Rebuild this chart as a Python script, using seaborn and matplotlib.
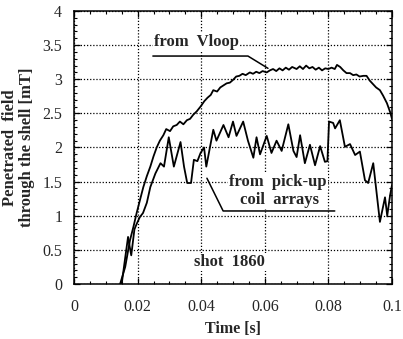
import matplotlib
matplotlib.use("Agg")
import matplotlib.pyplot as plt
import seaborn as sns
import pandas as pd
import numpy as np
from matplotlib.ticker import MultipleLocator

# ---- data ----
t_vloop = [0.0145, 0.0161, 0.0176, 0.0187, 0.0197, 0.0208, 0.0218, 0.0229, 0.0240,
           0.0250, 0.0260, 0.0270, 0.0281, 0.0290, 0.0302, 0.0312, 0.0323, 0.0333,
           0.0344, 0.0355, 0.0365, 0.0375, 0.0386, 0.0398, 0.0410, 0.0420, 0.0430,
           0.0438, 0.0450, 0.0460, 0.0470, 0.0480, 0.0490, 0.0500, 0.0510, 0.0520,
           0.0530, 0.0540, 0.0553, 0.0563, 0.0573, 0.0583, 0.0593, 0.0606, 0.0616,
           0.0626, 0.0636, 0.0646, 0.0656, 0.0666, 0.0676, 0.0686, 0.0700, 0.0710,
           0.0720, 0.0730, 0.0740, 0.0750, 0.0760, 0.0770, 0.0780, 0.0790, 0.0800,
           0.0810, 0.0820, 0.0827, 0.0837, 0.0847, 0.0857, 0.0868, 0.0878, 0.0888,
           0.0898, 0.0910, 0.0920, 0.0930, 0.0940, 0.0950, 0.0962, 0.0972, 0.0984,
           0.0994, 0.1000]
v_vloop = [0.00, 0.25, 0.64, 0.84, 1.04, 1.24, 1.42, 1.58, 1.72,
           1.87, 2.00, 2.10, 2.18, 2.27, 2.24, 2.31, 2.33, 2.38,
           2.34, 2.40, 2.42, 2.48, 2.53, 2.60, 2.68, 2.73, 2.77,
           2.84, 2.82, 2.88, 2.91, 2.94, 2.95, 2.99, 3.04, 3.05,
           3.08, 3.06, 3.10, 3.08, 3.11, 3.09, 3.12, 3.10, 3.13,
           3.15, 3.12, 3.16, 3.13, 3.17, 3.14, 3.18, 3.15, 3.19,
           3.15, 3.20, 3.16, 3.18, 3.14, 3.17, 3.13, 3.16, 3.15,
           3.17, 3.15, 3.21, 3.18, 3.13, 3.09, 3.09, 3.06, 3.07,
           3.04, 3.05, 3.05, 2.98, 2.93, 2.88, 2.84, 2.76, 2.65,
           2.52, 2.42]

t_pickup = [0.0150, 0.0160, 0.0170, 0.0175, 0.0180, 0.0190, 0.0197, 0.0207, 0.0217,
            0.0229, 0.0240, 0.0256, 0.0272, 0.0283, 0.0298, 0.0314, 0.0335, 0.0346,
            0.0356, 0.0368, 0.0377, 0.0388, 0.0398, 0.0409, 0.0416, 0.0438, 0.0448,
            0.0470, 0.0486, 0.0500, 0.0511, 0.0532, 0.0547, 0.0564, 0.0574, 0.0585,
            0.0606, 0.0621, 0.0637, 0.0653, 0.0674, 0.0690, 0.0700, 0.0711, 0.0726,
            0.0742, 0.0758, 0.0774, 0.0789, 0.0797, 0.0802, 0.0815, 0.0821, 0.0836,
            0.0852, 0.0868, 0.0884, 0.0899, 0.0915, 0.0925, 0.0941, 0.0962, 0.0978,
            0.0985, 0.0994, 0.1000]
v_pickup = [0.00, 0.35, 0.69, 0.55, 0.42, 0.80, 0.88, 0.98, 1.04,
            1.19, 1.42, 1.62, 1.77, 1.72, 2.15, 1.72, 2.08, 1.72,
            1.48, 1.48, 1.82, 1.80, 1.92, 2.00, 1.72, 2.26, 2.10,
            2.33, 2.15, 2.38, 2.17, 2.38, 2.10, 1.85, 2.15, 1.90,
            2.17, 1.92, 2.10, 1.95, 2.34, 1.95, 1.86, 2.18, 1.77,
            2.04, 1.74, 2.02, 1.79, 1.80, 2.38, 2.36, 2.28, 2.40,
            2.01, 2.05, 1.89, 1.94, 1.52, 1.48, 1.77, 0.91, 1.27,
            1.00, 1.30, 1.45]

x_ticks = [0, 0.02, 0.04, 0.06, 0.08, 0.1]
x_ticklabels = ["0", "0.02", "0.04", "0.06", "0.08", "0.1"]
y_ticks = [0, 0.5, 1, 1.5, 2, 2.5, 3, 3.5, 4]
y_ticklabels = ["0", "0.5", "1", "1.5", "2", "2.5", "3", "3.5", "4"]

df_v = pd.DataFrame({"t": t_vloop, "v": v_vloop})
df_p = pd.DataFrame({"t": t_pickup, "v": v_pickup})

sns.set_style("ticks")
plt.rcParams["font.family"] = ["Liberation Serif", "DejaVu Serif"]
plt.rcParams["xtick.direction"] = "in"
plt.rcParams["ytick.direction"] = "in"

fig = plt.figure(figsize=(4.03, 3.39), dpi=100)
ax = fig.add_axes([74 / 403, 55 / 339, 318 / 403, 273 / 339])

sns.lineplot(data=df_v, x="t", y="v", ax=ax, color="black", lw=1.3,
             estimator=None, sort=False)
sns.lineplot(data=df_p, x="t", y="v", ax=ax, color="black", lw=1.3,
             estimator=None, sort=False)

ax.set_xlim(0, 0.1)
ax.set_ylim(0, 4)
ax.set_xticks(x_ticks)
ax.set_xticklabels(x_ticklabels, fontsize=11.5)
ax.set_yticks(y_ticks)
ax.set_yticklabels(y_ticklabels, fontsize=11.5)
ax.xaxis.set_minor_locator(MultipleLocator(0.005))
ax.yaxis.set_minor_locator(MultipleLocator(0.1))
ax.tick_params(which="both", top=True, right=True, direction="in", color="black")
ax.tick_params(which="major", length=4, width=0.9)
ax.tick_params(which="minor", length=2.5, width=0.8)
ax.tick_params(axis="x", which="major", pad=11)
ax.tick_params(axis="y", which="major", pad=8.5)
for s in ax.spines.values():
    s.set_color("black")
    s.set_linewidth(1.1)

ax.grid(True, which="major", linestyle=(0, (1, 1.5)), color="black", lw=0.9)

ax.set_xlabel("Time [s]", fontsize=11.5, fontweight="bold", labelpad=4)
ax.set_ylabel("Penetrated  field\nthrough the shell [mT]", fontsize=12,
              fontweight="bold", labelpad=5, linespacing=1.1,
              multialignment="center")

# annotations
bbox = dict(facecolor="white", edgecolor="none", pad=1)
ax.text(0.0385, 3.55, "from  Vloop", fontsize=12, fontweight="bold",
        ha="center", va="center", bbox=bbox)
ax.plot([0.0248, 0.0547, 0.0610], [3.34, 3.34, 3.16], color="black", lw=1.1)

ax.text(0.0642, 1.50, "from  pick-up", fontsize=12, fontweight="bold",
        ha="center", va="center", bbox=bbox)
ax.text(0.0647, 1.23, "coil  arrays", fontsize=12, fontweight="bold",
        ha="center", va="center", bbox=bbox)
ax.plot([0.0418, 0.0469, 0.0820], [1.55, 1.07, 1.07], color="black", lw=1.1)

ax.text(0.049, 0.32, "shot  1860", fontsize=12, fontweight="bold",
        ha="center", va="center", bbox=bbox)

fig.savefig("out.png", dpi=100)
